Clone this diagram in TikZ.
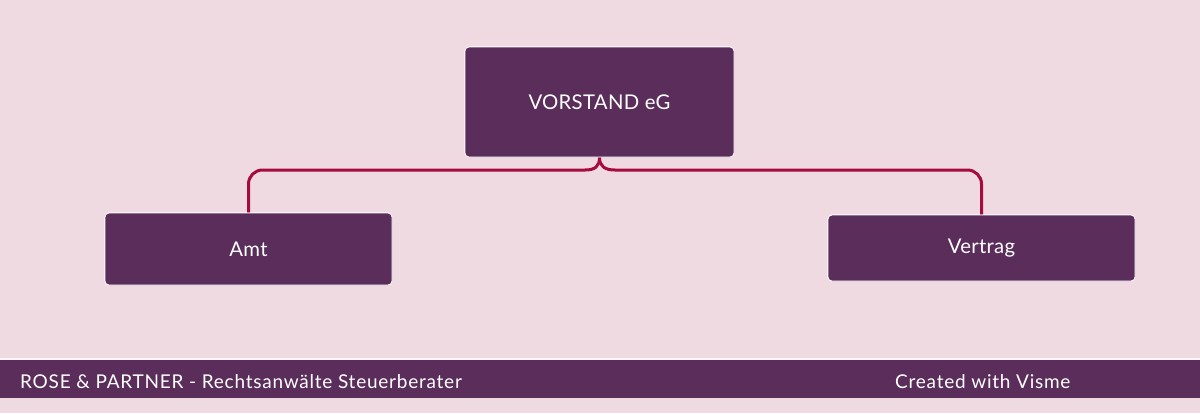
\documentclass[tikz,border=0pt]{standalone}
\usepackage{fontspec}
\setmainfont{Lato}
\newfontfamily\footfont[LetterSpace=4.0]{Lato}
\newfontfamily\boxfont[LetterSpace=1.5]{Lato}
\definecolor{bg}{HTML}{F0DAE2}
\definecolor{boxc}{HTML}{5A2D5A}
\definecolor{connc}{HTML}{A50C3D}
\tikzset{
  orgbox/.style={draw=white, line width=0.8pt, fill=boxc, rounded corners=4pt, text=white, font=\boxfont\fontsize{20.3}{23}\selectfont, inner sep=0pt},
  conn/.style={draw=connc, line width=3pt},
  foot/.style={text=white, font=\footfont\fontsize{19}{22}\selectfont, inner sep=0pt, anchor=west}
}
\begin{document}
\begin{tikzpicture}[x=1pt,y=-1pt]
\fill[bg] (0,0) rectangle (1200,413);
\useasboundingbox (0,0) rectangle (1200,413);
% connectors
\coordinate (jl) at (585,170);
\coordinate (jr) at (615,170);
\node[orgbox, minimum width=269pt, minimum height=110pt] (v) at (599.5,102) {VORSTAND eG};
\node[orgbox, minimum width=287pt, minimum height=72pt] (a) at (248.5,249) {Amt};
\node[orgbox, minimum width=307pt, minimum height=66pt] (t) at (981.5,248) {Vertrag};
\draw[conn] (v.south) .. controls +(0,9) and +(10,0) .. (jl);
\draw[conn] (v.south) .. controls +(0,9) and +(-10,0) .. (jr);
\draw[conn, rounded corners=14pt] (jl) -| (a.north);
\draw[conn, rounded corners=14pt] (jr) -| (t.north);
% redraw boxes over connector ends
\node[orgbox, minimum width=269pt, minimum height=110pt] at (v.center) {VORSTAND eG};
\node[orgbox, minimum width=287pt, minimum height=72pt] at (a.center) {Amt};
\node[orgbox, minimum width=307pt, minimum height=66pt] at (t.center) {Vertrag};
% footer
\fill[white!70!bg] (0,358) rectangle (1200,360);
\fill[boxc] (0,360) rectangle (1200,398);
\node[foot] (f1) at (20,382) {ROSE \& PARTNER - Rechtsanwälte Steuerberater};
\node[foot] (f2) at (895,382) {Created with Visme};
\end{tikzpicture}
\end{document}
